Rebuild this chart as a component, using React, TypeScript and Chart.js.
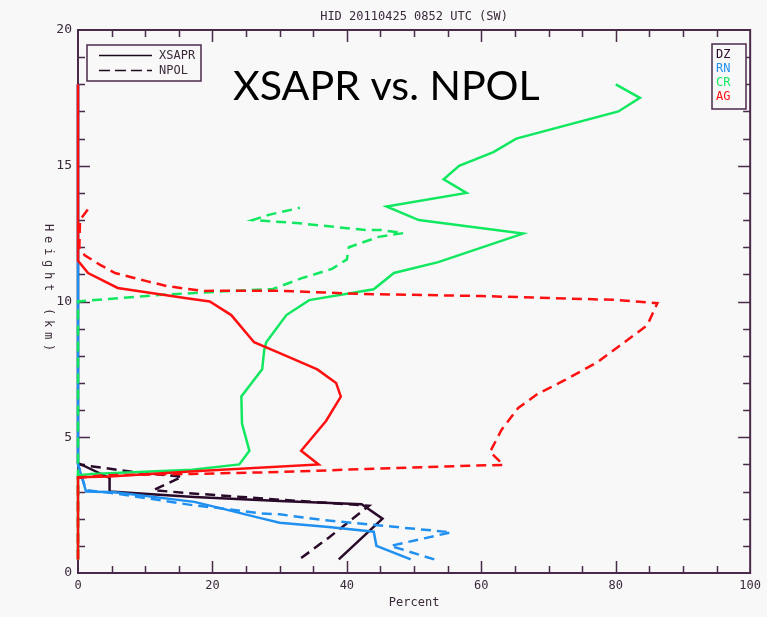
import { useEffect, useRef } from 'react';
import { Chart, registerables } from 'chart.js';
Chart.register(...registerables);

const W = 767;
const H = 617;
const BG = '#f8f8f8';
const FRAME = '#4a2a4a';
const TEXT = '#3a2a3a';
const MONO = '"DejaVu Sans Mono", monospace';

const TITLE = 'HID 20110425 0852 UTC (SW)';
const BIG_LABEL = 'XSAPR vs. NPOL';
const X_TITLE = 'Percent';
const Y_TITLE = 'Height (km)';
const RADARS = ['XSAPR', 'NPOL'];
const CLASSES = ['DZ', 'RN', 'CR', 'AG'];
const CLASS_COLORS = ['#2a0a2a', '#2090f0', '#10e860', '#ff1010'];

// Percent (x) and height in km (y), one pair of arrays per line
const dzXsaprX = [38.8, 45.3, 42.2, 30, 17.3, 4.7, 4.7, 0, 0];
const dzXsaprY = [0.5, 2.0, 2.53, 2.65, 2.8, 3.0, 3.5, 4.05, 18];
const dzNpolX = [33.2, 37.3, 40.6, 43.3, 30, 16, 11.2, 15.5, 8, 0];
const dzNpolY = [0.55, 1.3, 1.95, 2.48, 2.7, 2.95, 3.05, 3.55, 3.73, 4.0];

const rnXsaprX = [49.5, 44.4, 44, 37.3, 30, 27, 21, 17.3, 5.5, 1.2, 0, 0];
const rnXsaprY = [0.5, 1.0, 1.52, 1.69, 1.85, 2.03, 2.4, 2.62, 2.97, 3.0, 4.0, 18];
const rnNpolX = [53, 46.5, 55.5, 37.3, 30, 27, 20.6, 17, 5, 1.2, 0];
const rnNpolY = [0.5, 1.0, 1.5, 1.93, 2.16, 2.2, 2.4, 2.5, 2.95, 3.05, 4.0];

const crXsaprX = [0, 0, 2, 17, 24, 25.5, 24.4, 24.3, 27.4, 27.7, 28, 31, 34.4, 41.8, 44, 47, 53.6, 66.2, 50.7, 45.9, 57.8, 54.4, 56.7, 61.8, 65.2, 80.4, 83.6, 80];
const crXsaprY = [0.5, 3.6, 3.65, 3.8, 4.0, 4.5, 5.5, 6.5, 7.5, 8.2, 8.5, 9.5, 10.05, 10.36, 10.45, 11.05, 11.45, 12.5, 13.0, 13.5, 14.0, 14.5, 15.0, 15.5, 16.0, 17.0, 17.5, 18.0];
const crNpolX = [0, 0, 12, 23, 29, 33.3, 37.8, 40, 40.3, 44.7, 48.4, 45.2, 42.8, 33, 26, 28.5, 33];
const crNpolY = [0.5, 10.0, 10.24, 10.39, 10.46, 10.86, 11.2, 11.55, 12.0, 12.38, 12.52, 12.63, 12.63, 12.88, 13.0, 13.2, 13.45];

const agXsaprX = [0, 0, 4.7, 17.3, 35.8, 33.2, 36.9, 39.1, 38.4, 35.6, 31.4, 26.2, 22.8, 19.6, 15.9, 5.9, 1.5, 0, 0];
const agXsaprY = [0.5, 3.53, 3.55, 3.75, 4.0, 4.5, 5.6, 6.5, 7.0, 7.5, 7.95, 8.5, 9.5, 10.0, 10.13, 10.5, 11.05, 11.5, 18];
const agNpolX = [0, 0, 3.7, 17, 30, 42.8, 58, 63.3, 61.3, 63, 65.5, 68.4, 72.4, 77.3, 81.3, 84.7, 86.2, 79.9, 60, 41.8, 29.5, 18.5, 13.2, 10.2, 5.5, 3.3, 1, 0.2, 0.3, 1.5];
const agNpolY = [0.5, 3.5, 3.6, 3.65, 3.72, 3.83, 3.95, 3.98, 4.46, 5.27, 6.08, 6.6, 7.1, 7.77, 8.5, 9.13, 9.94, 10.06, 10.2, 10.28, 10.4, 10.39, 10.57, 10.75, 11.05, 11.35, 11.7, 12.0, 13.0, 13.4];

const DASH = [10, 6];

function pts(xs: number[], ys: number[]) {
  return xs.map((x, i) => ({ x, y: ys[i] }));
}

function line(label: string, xs: number[], ys: number[], color: string, dashed: boolean) {
  return {
    label,
    data: pts(xs, ys),
    showLine: true,
    borderColor: color,
    backgroundColor: color,
    borderWidth: 2.5,
    borderDash: dashed ? DASH : [],
    pointRadius: 0,
    pointHoverRadius: 0,
    fill: false,
    tension: 0,
    clip: false as any,
  };
}

const decor = {
  id: 'decor',
  beforeDraw(chart: any) {
    const ctx = chart.ctx;
    ctx.save();
    ctx.fillStyle = BG;
    ctx.fillRect(0, 0, chart.width, chart.height);
    ctx.restore();
  },
  beforeDatasetsDraw(chart: any) {
    const ctx = chart.ctx;
    const { left, right, top, bottom } = chart.chartArea;
    const xs = chart.scales.x;
    const ys = chart.scales.y;
    ctx.save();
    ctx.strokeStyle = FRAME;
    ctx.lineWidth = 2;
    ctx.strokeRect(left, top, right - left, bottom - top);
    ctx.lineWidth = 1.5;
    ctx.beginPath();
    for (let v = 5; v < 100; v += 5) {
      const p = Math.round(xs.getPixelForValue(v)) + 0.5;
      const len = v % 20 === 0 ? 12 : 7;
      ctx.moveTo(p, bottom);
      ctx.lineTo(p, bottom - len);
      ctx.moveTo(p, top);
      ctx.lineTo(p, top + len);
    }
    for (let v = 1; v < 20; v += 1) {
      const p = Math.round(ys.getPixelForValue(v)) + 0.5;
      const len = v % 5 === 0 ? 12 : 7;
      ctx.moveTo(left, p);
      ctx.lineTo(left + len, p);
      ctx.moveTo(right, p);
      ctx.lineTo(right - len, p);
    }
    ctx.stroke();
    ctx.restore();
  },
  afterDraw(chart: any) {
    const ctx = chart.ctx;
    const { left, right, top, bottom } = chart.chartArea;
    ctx.save();
    // title
    ctx.fillStyle = TEXT;
    ctx.font = `12px ${MONO}`;
    ctx.textAlign = 'center';
    ctx.textBaseline = 'middle';
    ctx.fillText(TITLE, (left + right) / 2, 17);

    // y title, rotated, read top to bottom
    ctx.save();
    ctx.translate(48, 228);
    ctx.rotate(Math.PI / 2);
    ctx.textAlign = 'left';
    ctx.textBaseline = 'middle';
    const step = 12;
    for (let i = 0; i < Y_TITLE.length; i++) {
      ctx.fillText(Y_TITLE[i], i * step - 4, 0);
    }
    ctx.restore();

    // big label
    ctx.fillStyle = '#000000';
    ctx.textAlign = 'left';
    ctx.textBaseline = 'alphabetic';
    ctx.font = '46px Lato, "Open Sans", sans-serif';
    const w0 = ctx.measureText(BIG_LABEL).width;
    const size = 46 * 307 / w0;
    ctx.font = `${size.toFixed(1)}px Lato, "Open Sans", sans-serif`;
    ctx.fillText(BIG_LABEL, 233, 100);

    // left legend
    ctx.fillStyle = BG;
    ctx.strokeStyle = FRAME;
    ctx.lineWidth = 1.5;
    ctx.fillRect(87, 45, 114, 36);
    ctx.strokeRect(87, 45, 114, 36);
    ctx.strokeStyle = '#1a0a1a';
    ctx.lineWidth = 1.3;
    RADARS.forEach((name, i) => {
      const y = 55.5 + i * 15;
      ctx.setLineDash(i === 0 ? [] : [11, 5]);
      ctx.beginPath();
      ctx.moveTo(99, y);
      ctx.lineTo(152, y);
      ctx.stroke();
      ctx.setLineDash([]);
      ctx.fillStyle = TEXT;
      ctx.font = `12px ${MONO}`;
      ctx.textAlign = 'left';
      ctx.textBaseline = 'middle';
      ctx.fillText(name, 159, y);
    });

    // right legend
    ctx.fillStyle = BG;
    ctx.strokeStyle = FRAME;
    ctx.lineWidth = 1.5;
    ctx.fillRect(712, 44, 34, 65);
    ctx.strokeRect(712, 44, 34, 65);
    CLASSES.forEach((name, i) => {
      ctx.fillStyle = CLASS_COLORS[i];
      ctx.font = `12px ${MONO}`;
      ctx.textAlign = 'left';
      ctx.textBaseline = 'middle';
      ctx.fillText(name, 716, 55 + i * 14);
    });
    ctx.restore();
  },
};

export default function App() {
  const ref = useRef<HTMLCanvasElement | null>(null);
  useEffect(() => {
    if (!ref.current) return;
    const [dz, rn, cr, ag] = CLASS_COLORS;
    const datasets = [
      line('AG XSAPR', agXsaprX, agXsaprY, ag, false),
      line('AG NPOL', agNpolX, agNpolY, ag, true),
      line('CR NPOL', crNpolX, crNpolY, cr, true),
      line('CR XSAPR', crXsaprX, crXsaprY, cr, false),
      line('RN XSAPR', rnXsaprX, rnXsaprY, rn, false),
      line('RN NPOL', rnNpolX, rnNpolY, rn, true),
      line('DZ XSAPR', dzXsaprX, dzXsaprY, dz, false),
      line('DZ NPOL', dzNpolX, dzNpolY, dz, true),
    ];
    const chart = new Chart(ref.current, {
      type: 'scatter',
      data: { datasets: datasets as any },
      options: {
        responsive: false,
        animation: false,
        events: [],
        layout: { padding: { top: 30, right: 14, left: 0, bottom: 0 } },
        plugins: {
          legend: { display: false },
          tooltip: { enabled: false },
          title: { display: false },
        },
        scales: {
          x: {
            type: 'linear',
            min: 0,
            max: 100,
            position: 'bottom',
            ticks: { stepSize: 20, color: TEXT, font: { family: MONO, size: 12 }, padding: 6, maxRotation: 0 },
            grid: { display: false, drawTicks: false },
            border: { display: false },
            title: { display: true, text: X_TITLE, color: TEXT, font: { family: MONO, size: 12 }, padding: { top: 0, bottom: 7 } },
            afterFit: (s: any) => { s.height = 44; },
          },
          y: {
            type: 'linear',
            min: 0,
            max: 20,
            ticks: { stepSize: 5, color: TEXT, font: { family: MONO, size: 13 }, padding: 6 },
            grid: { display: false, drawTicks: false },
            border: { display: false },
            afterFit: (s: any) => { s.width = 78; },
          },
        },
      },
      plugins: [decor],
    });
    return () => chart.destroy();
  }, []);
  return (
    <div style={{ position: 'absolute', left: 0, top: 0, width: W, height: H }}>
      <canvas ref={ref} width={W} height={H} style={{ display: 'block', width: W, height: H }} />
    </div>
  );
}
